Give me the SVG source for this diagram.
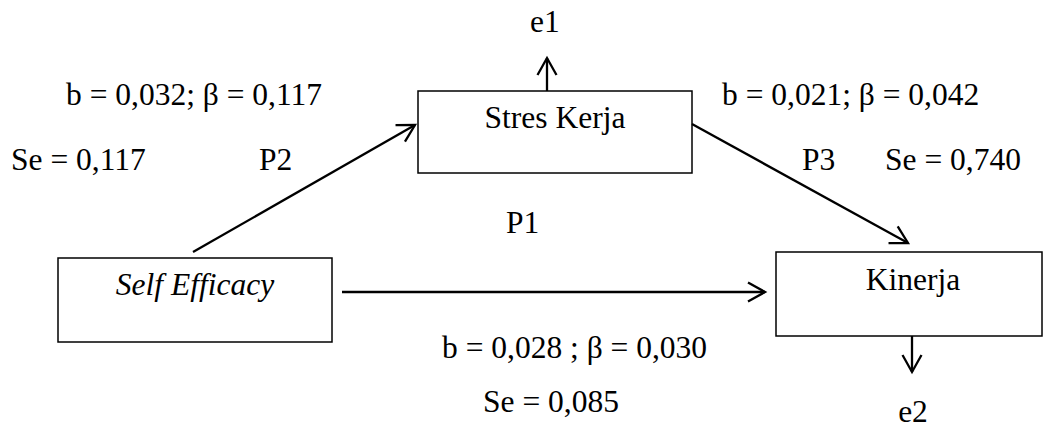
<svg xmlns="http://www.w3.org/2000/svg" width="1044" height="430" viewBox="0 0 1044 430">
<style>
text{font-family:"Liberation Serif","Times New Roman",serif;font-size:31.5px;fill:#000}
.box{fill:#fff;stroke:#000;stroke-width:1.5}
.c{text-anchor:middle}
.conn{stroke:#000;stroke-width:2.3;fill:none;marker-end:url(#arr)}
</style>
<defs>
<marker id="arr" markerUnits="userSpaceOnUse" viewBox="-20 -12 24 24" markerWidth="24" markerHeight="24" refX="0" refY="0" orient="auto">
<path d="M-17,-9.5 L0,0 L-17,9.5" fill="none" stroke="#000" stroke-width="2.3"/>
</marker>
</defs>
<rect width="1044" height="430" fill="#fff"/>
<g id="stres-kerja">
<rect class="box" x="418" y="91" width="274" height="82"/>
<text class="c" x="555" y="128">Stres Kerja</text>
</g>
<g id="self-efficacy">
<rect class="box" x="58" y="258" width="274" height="84"/>
<text class="c" x="195" y="295" font-style="italic">Self Efficacy</text>
</g>
<g id="kinerja">
<rect class="box" x="776" y="252" width="266" height="84"/>
<text class="c" x="913" y="290">Kinerja</text>
</g>
<g id="connectors">
<line class="conn" x1="547" y1="91" x2="547" y2="58"/>
<line class="conn" x1="912" y1="336" x2="912" y2="372"/>
<line class="conn" x1="193" y1="252" x2="415" y2="125"/>
<line class="conn" x1="692" y1="124" x2="908" y2="243"/>
<line class="conn" x1="342" y1="292" x2="765" y2="292"/>
</g>
<g id="labels">
<text x="530" y="32">e1</text>
<text x="66" y="105">b = 0,032; β = 0,117</text>
<text x="11" y="170">Se = 0,117</text>
<text x="259" y="170">P2</text>
<text x="722" y="105">b = 0,021; β = 0,042</text>
<text x="802" y="170">P3</text>
<text x="885" y="170">Se = 0,740</text>
<text x="506" y="233">P1</text>
<text x="442" y="358">b = 0,028 ; β = 0,030</text>
<text x="483" y="412">Se = 0,085</text>
<text class="c" x="913" y="422">e2</text>
</g>
</svg>
